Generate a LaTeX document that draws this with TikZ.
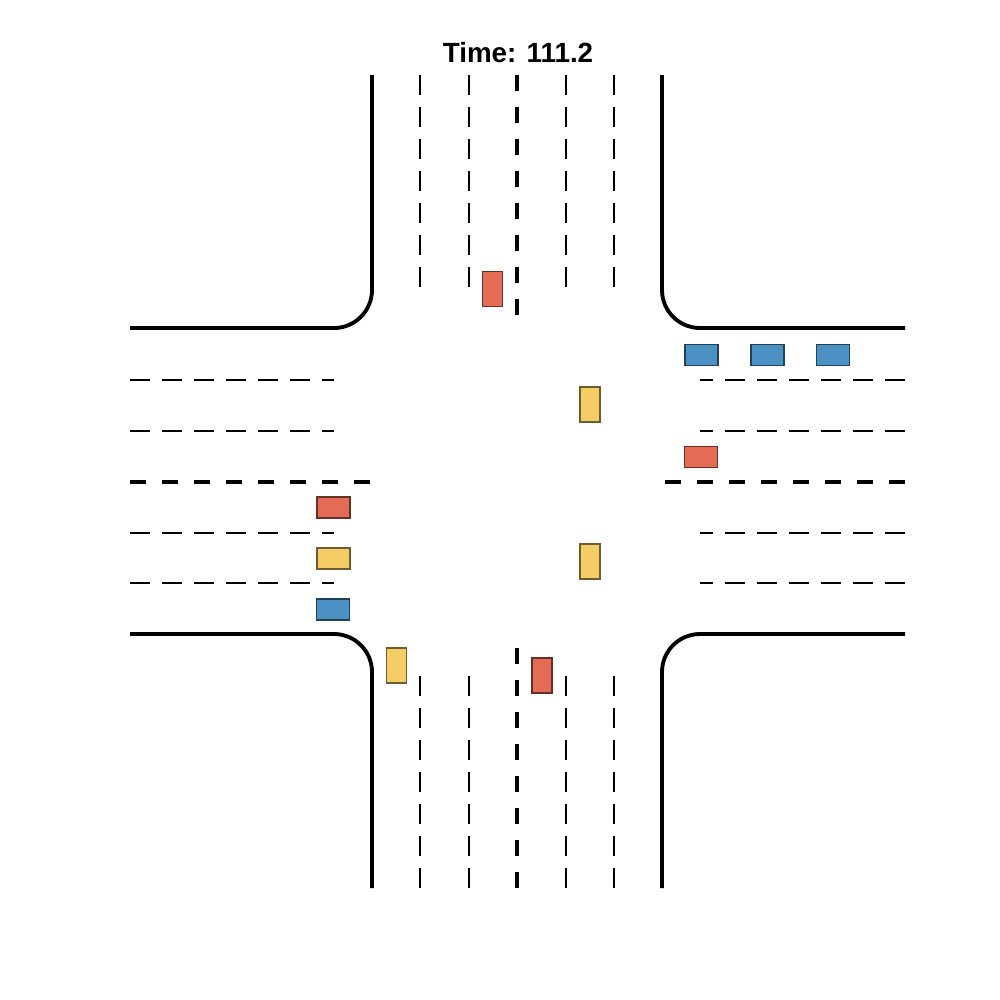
\documentclass[tikz,border=0pt]{standalone}
\usepackage{fontspec}
\setmainfont{Liberation Sans}
\usepackage{xcolor}
\definecolor{carred}{RGB}{228,107,86}
\definecolor{carblue}{RGB}{75,145,196}
\definecolor{caryellow}{RGB}{245,205,102}
\tikzset{
  edge/.style={line width=1.1pt, rounded corners=0.38cm},
  lane/.style={line width=0.6pt, dash pattern=on 2mm off 1.2mm},
  median/.style={line width=1.15pt, dash pattern=on 1.6mm off 1.6mm},
  car/.style={draw=#1!45!black, fill=#1, line width=0.35pt, inner sep=0pt},
  hcar/.style={car=#1, minimum width=0.33cm, minimum height=0.21cm},
  vcar/.style={car=#1, minimum width=0.2cm, minimum height=0.35cm}
}

\begin{document}
\begin{tikzpicture}[x=0.01cm, y=-0.01cm]
  \useasboundingbox (0,0) rectangle (1000,1000);
  \node[font=\bfseries\fontsize{7.9}{9}\selectfont] (title) at (518,53) {Time: 111.2};
  % road edges
  \draw[edge] (372,75) -- (372,328) -- (130,328);
  \draw[edge] (662,75) -- (662,328) -- (905,328);
  \draw[edge] (130,634) -- (372,634) -- (372,888);
  \draw[edge] (905,634) -- (662,634) -- (662,888);
  % lane markings
  \foreach \x in {420,469,566,614} {
    \draw[lane] (\x,75) -- (\x,290);
    \draw[lane] (\x,888) -- (\x,672);
  }
  \foreach \y in {380,431,533,583} {
    \draw[lane] (130,\y) -- (334,\y);
    \draw[lane] (905,\y) -- (700,\y);
  }
  \draw[median] (517,75) -- (517,328);
  \draw[median] (517,888) -- (517,634);
  \draw[median] (130,482) -- (372,482);
  \draw[median] (905,482) -- (662,482);
  % vehicles
  \node[vcar=carred] (n1) at (492.5,289) {};
  \node[hcar=carblue] (e1) at (701.5,355) {};
  \node[hcar=carblue] (e2) at (767.5,355) {};
  \node[hcar=carblue] (e3) at (833,355) {};
  \node[hcar=carred] (e4) at (701,457) {};
  \node[vcar=caryellow] (c1) at (590,404.5) {};
  \node[vcar=caryellow] (c2) at (590,561.5) {};
  \node[hcar=carred] (w1) at (333.5,507.5) {};
  \node[hcar=caryellow] (w2) at (333.5,558.5) {};
  \node[hcar=carblue] (w3) at (333,609.5) {};
  \node[vcar=caryellow] (s1) at (396.5,665.5) {};
  \node[vcar=carred] (s2) at (542,675.5) {};
\end{tikzpicture}
\end{document}
